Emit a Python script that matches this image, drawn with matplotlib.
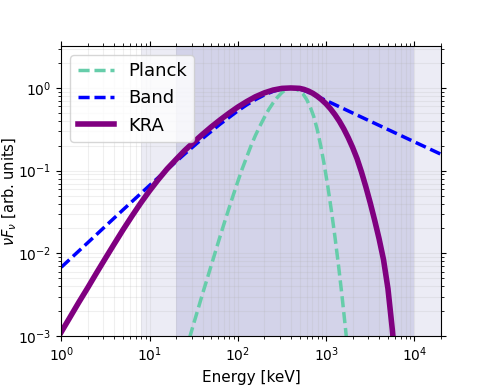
import matplotlib
matplotlib.use("Agg")
import matplotlib.pyplot as plt

# values (energy in keV, nuFnu in arbitrary units)
planck_e = [25.1, 28.2, 31.6, 35.5, 39.8, 44.7, 50.1, 56.2, 63.1, 70.8, 79.4, 89.1,
            100, 112, 126, 141, 158, 178, 200, 224, 251, 282, 316, 355, 380, 417,
            457, 501, 550, 603, 661, 724, 794, 871, 955, 1047, 1148, 1259, 1380,
            1514, 1660, 1820]
planck_f = [0.00062, 0.00093, 0.00141, 0.00214, 0.00324, 0.00484, 0.00724, 0.0108,
            0.0162, 0.024, 0.0351, 0.0513, 0.0741, 0.105, 0.146, 0.200, 0.266, 0.347,
            0.442, 0.550, 0.661, 0.776, 0.881, 0.966, 1.0, 0.989, 0.966, 0.923, 0.841,
            0.724, 0.589, 0.452, 0.313, 0.197, 0.116, 0.0635, 0.0327, 0.0158, 0.0072,
            0.00305, 0.00121, 0.00045]

band_e = [1, 2, 5, 10, 15.8, 25.1, 39.8, 63.1, 100, 126, 158, 200, 251, 316, 398,
          501, 600, 1000, 2000, 5000, 10000, 20000]
band_f = [0.0068, 0.0135, 0.0336, 0.0663, 0.103, 0.160, 0.245, 0.366, 0.529, 0.625,
          0.723, 0.824, 0.911, 0.975, 1.0, 0.973, 0.910, 0.705, 0.498, 0.315, 0.223,
          0.158]

kra_e = [1, 1.26, 1.58, 2, 2.51, 3.16, 3.98, 5.01, 6.31, 7.94, 10, 12.6, 15.8, 20,
         25.1, 31.6, 39.8, 50.1, 63.1, 79.4, 100, 126, 158, 200, 251, 316, 398, 447,
         501, 562, 631, 708, 794, 891, 1000, 1122, 1259, 1413, 1585, 1778, 1995, 2239,
         2512, 2818, 3162, 3548, 3981, 4467, 5012, 5623, 6310]
kra_f = [0.00112, 0.0017, 0.00256, 0.00386, 0.00581, 0.00871, 0.013, 0.0193, 0.0282,
         0.0406, 0.0571, 0.0785, 0.105, 0.137, 0.176, 0.221, 0.275, 0.339, 0.412,
         0.495, 0.588, 0.685, 0.783, 0.873, 0.944, 0.989, 1.0, 0.995, 0.989, 0.961,
         0.917, 0.861, 0.794, 0.720, 0.642, 0.559, 0.476, 0.396, 0.320, 0.251, 0.191,
         0.140, 0.0966, 0.0638, 0.0407, 0.0251, 0.015, 0.0084, 0.00376, 0.00119, 0.0003]

# detector energy windows (keV)
wide_band = (8, 4e4)
main_band = (20, 1e4)

fig, ax = plt.subplots(figsize=(4.9, 3.85), dpi=100)
fig.subplots_adjust(left=0.125, right=0.9, top=0.88, bottom=0.127)

ax.axvspan(*wide_band, color="navy", alpha=0.075, lw=0)
ax.axvspan(*main_band, color="navy", alpha=0.1, lw=0)

dash = (0, (3.2, 1.4))
ax.plot(planck_e, planck_f, color="mediumaquamarine", lw=2.5, ls=dash, label="Planck")
ax.plot(band_e, band_f, color="blue", lw=2.5, ls=dash, label="Band")
ax.plot(kra_e, kra_f, color="purple", lw=4, label="KRA")

ax.set_xscale("log")
ax.set_yscale("log")
ax.set_xlim(1, 2e4)
ax.set_ylim(1e-3, 3.2)
ax.grid(True, which="both", alpha=0.2)
ax.tick_params(which="both", top=True, right=True, labelsize=10)

ax.set_xlabel("Energy [keV]", fontsize=11)
ax.set_ylabel(r"$\nu F_\nu$ [arb. units]", fontsize=10.5)
ax.yaxis.set_label_coords(-0.112, 0.5)
ax.legend(loc="upper left", fontsize=13)

fig.savefig("out.png", dpi=100)
